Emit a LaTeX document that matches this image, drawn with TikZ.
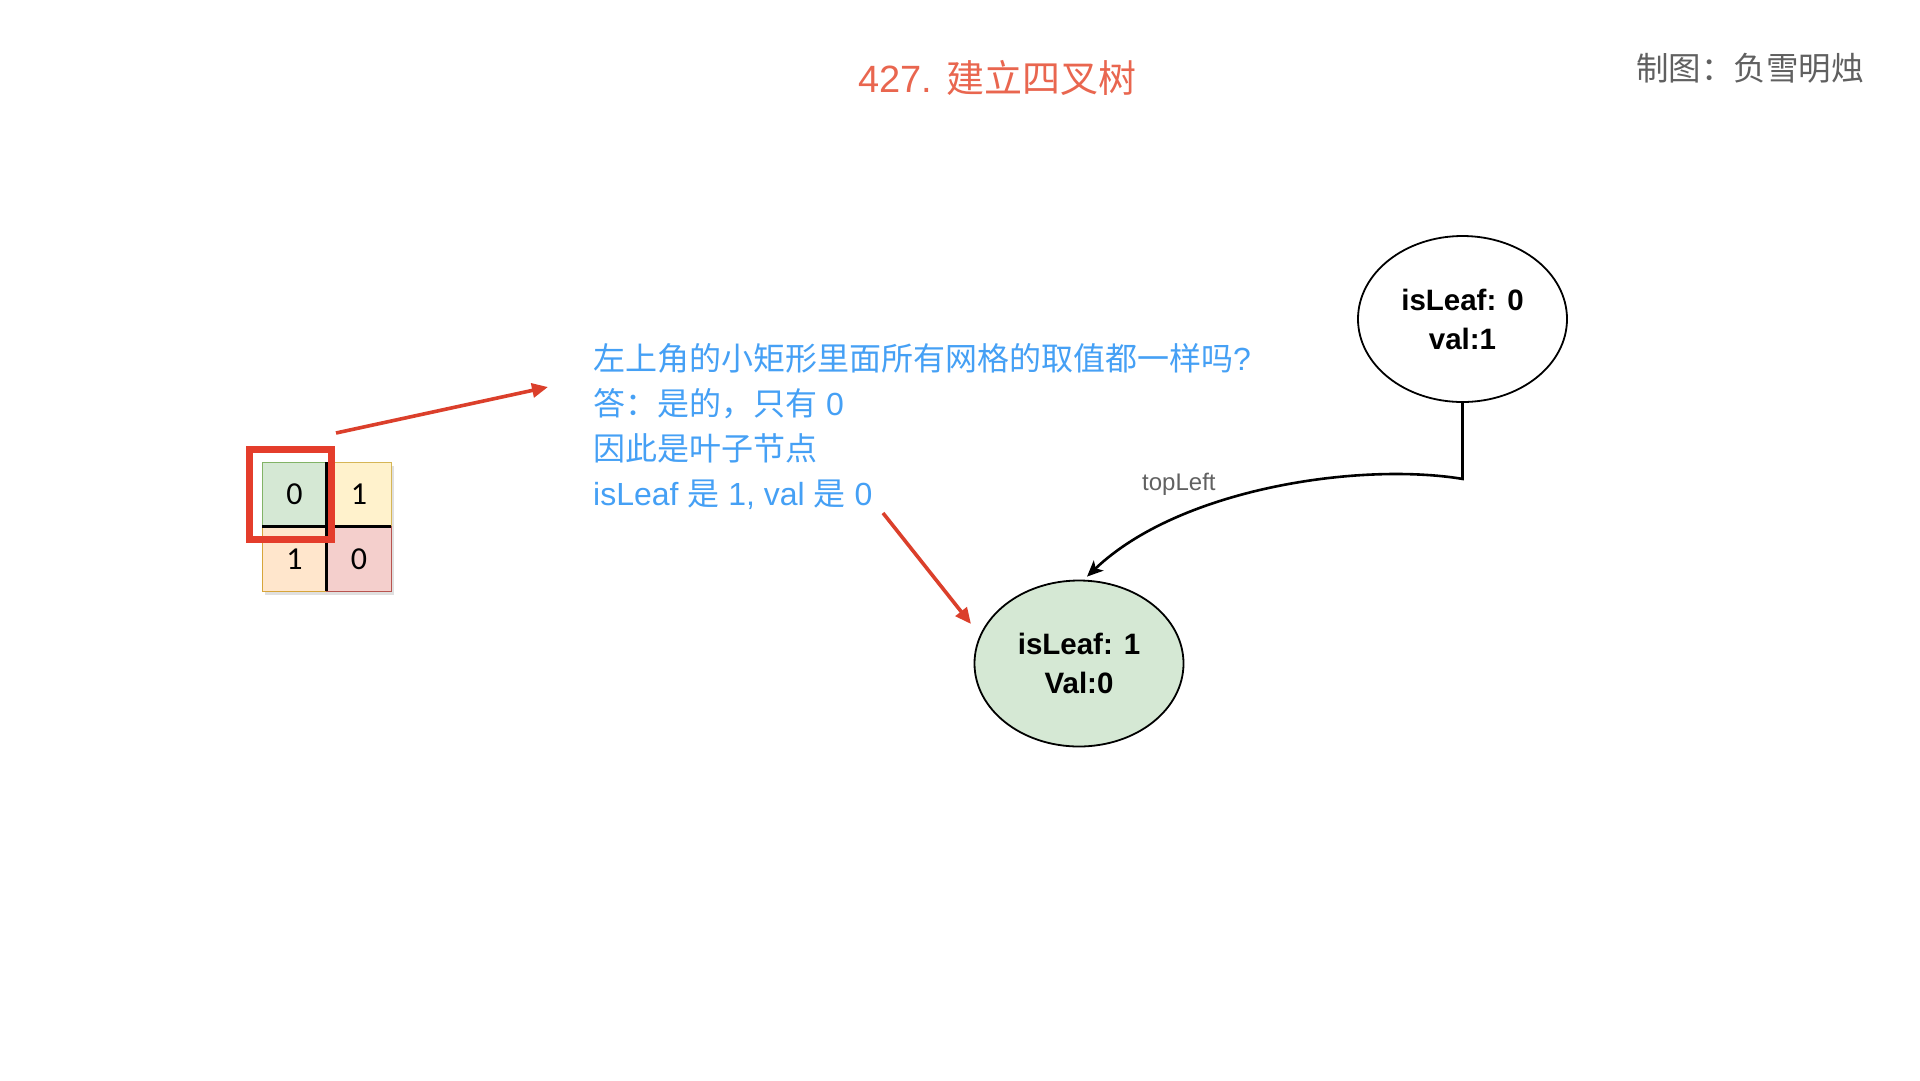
\documentclass[tikz,border=0pt]{standalone}
\usepackage{fontspec}
\setmainfont{Liberation Sans}
\newfontfamily\cjk{Noto Sans CJK SC}
\newfontfamily\cellfont{Carlito}
\usetikzlibrary{shapes.geometric,arrows.meta}
\definecolor{titlecol}{HTML}{E9664F}
\definecolor{authorcol}{HTML}{606060}
\definecolor{bluetxt}{HTML}{45A0F5}
\definecolor{redbox}{HTML}{E43D2B}
\definecolor{redarrow}{HTML}{DB3F2B}
\definecolor{gfill}{HTML}{D5E8D4}\definecolor{gline}{HTML}{82B366}
\definecolor{yfill}{HTML}{FFF2CC}\definecolor{yline}{HTML}{D6B656}
\definecolor{ofill}{HTML}{FFE6CC}\definecolor{oline}{HTML}{D7A53A}
\definecolor{rfill}{HTML}{F4CFCC}\definecolor{rline}{HTML}{B85450}
\tikzset{
  cell/.style={rectangle, minimum width=64.5pt, minimum height=64.5pt, inner sep=0pt, outer sep=0pt,
    line width=1.3pt, font=\cellfont\fontsize{32}{32}\selectfont},
  qline/.style={anchor=base west, inner sep=0pt, text=bluetxt, font=\fontsize{32}{32}\selectfont},
  treenode/.style={ellipse, draw=black, line width=1.8pt, minimum width=209pt, minimum height=166pt,
    inner sep=0pt, align=center, font=\bfseries\fontsize{29.5}{39}\selectfont},
  redarr/.style={draw=redarrow, line width=3.6pt, -{Triangle[length=16pt,width=14pt]}},
  blackarr/.style={draw=black, line width=2.6pt, -{Stealth[length=16pt,width=14pt,inset=4pt]}},
}
\begin{document}
\begin{tikzpicture}[x=1pt,y=-1pt]
\useasboundingbox (0,0) rectangle (1920,1080);
\fill[white] (0,0) rectangle (1920,1080);

% title and author
\node[anchor=base, inner sep=0pt, text=titlecol, font=\fontsize{38}{38}\selectfont] (title) at (997.5,92)
  {427. {\cjk 建立四叉树}};
\node[anchor=base east, inner sep=0pt, text=authorcol, font=\cjk\fontsize{32.5}{32.5}\selectfont] (author) at (1864,80)
  {制图：负雪明烛};

% grid shadow
\fill[black!12] (265,466) rectangle (394,595);
% grid cells
\node[cell, fill=gfill, draw=gline] (g) at (294.5,494.5) {0};
\node[cell, fill=yfill, draw=yline] (y) at (359,494.5) {1};
\node[cell, fill=ofill, draw=oline] (o) at (294.5,559) {1};
\node[cell, fill=rfill, draw=rline] (r) at (359,559) {0};
\draw[line width=2.8pt] (g.north east) -- (o.south east);
\draw[line width=2.8pt] (g.south west) -- (y.south east);

% red selection box
\node[rectangle, draw=redbox, line width=7pt, minimum width=82pt, minimum height=90pt,
  inner sep=0pt, outer sep=0pt] (sel) at (290.5,494.5) {};

% question text
\node[qline] (q1) at (593,370) {{\cjk 左上角的小矩形里面所有网格的取值都一样吗}?};
\node[qline] (q2) at (593,415) {{\cjk 答：是的，只有} 0};
\node[qline] (q3) at (593,460) {{\cjk 因此是叶子节点}};
\node[qline] (q4) at (593,505) {isLeaf {\cjk 是} 1, val {\cjk 是} 0};

% tree nodes
\node[treenode] (p) at (1462.5,319) {isLeaf: 0\\val:1};
\node[treenode, fill=gfill] (c) at (1079,663.5) {isLeaf: 1\\Val:0};

% connector
\draw[blackarr] (p.south) -- ++(0,76) .. controls (1360,462) and (1180,488) .. ([xshift=8pt,yshift=3pt]c.north);
\node[anchor=base west, inner sep=0pt, text=black!62, font=\fontsize{24}{24}\selectfont] (lbl) at (1142,490) {topLeft};

% red arrows
\coordinate (a1s) at (336,433);
\coordinate (a1e) at (548,387);
\draw[redarr] (a1s) -- (a1e);
\coordinate (a2s) at (883,513);
\coordinate (a2e) at (971,624);
\draw[redarr] (a2s) -- (a2e);
\end{tikzpicture}
\end{document}
